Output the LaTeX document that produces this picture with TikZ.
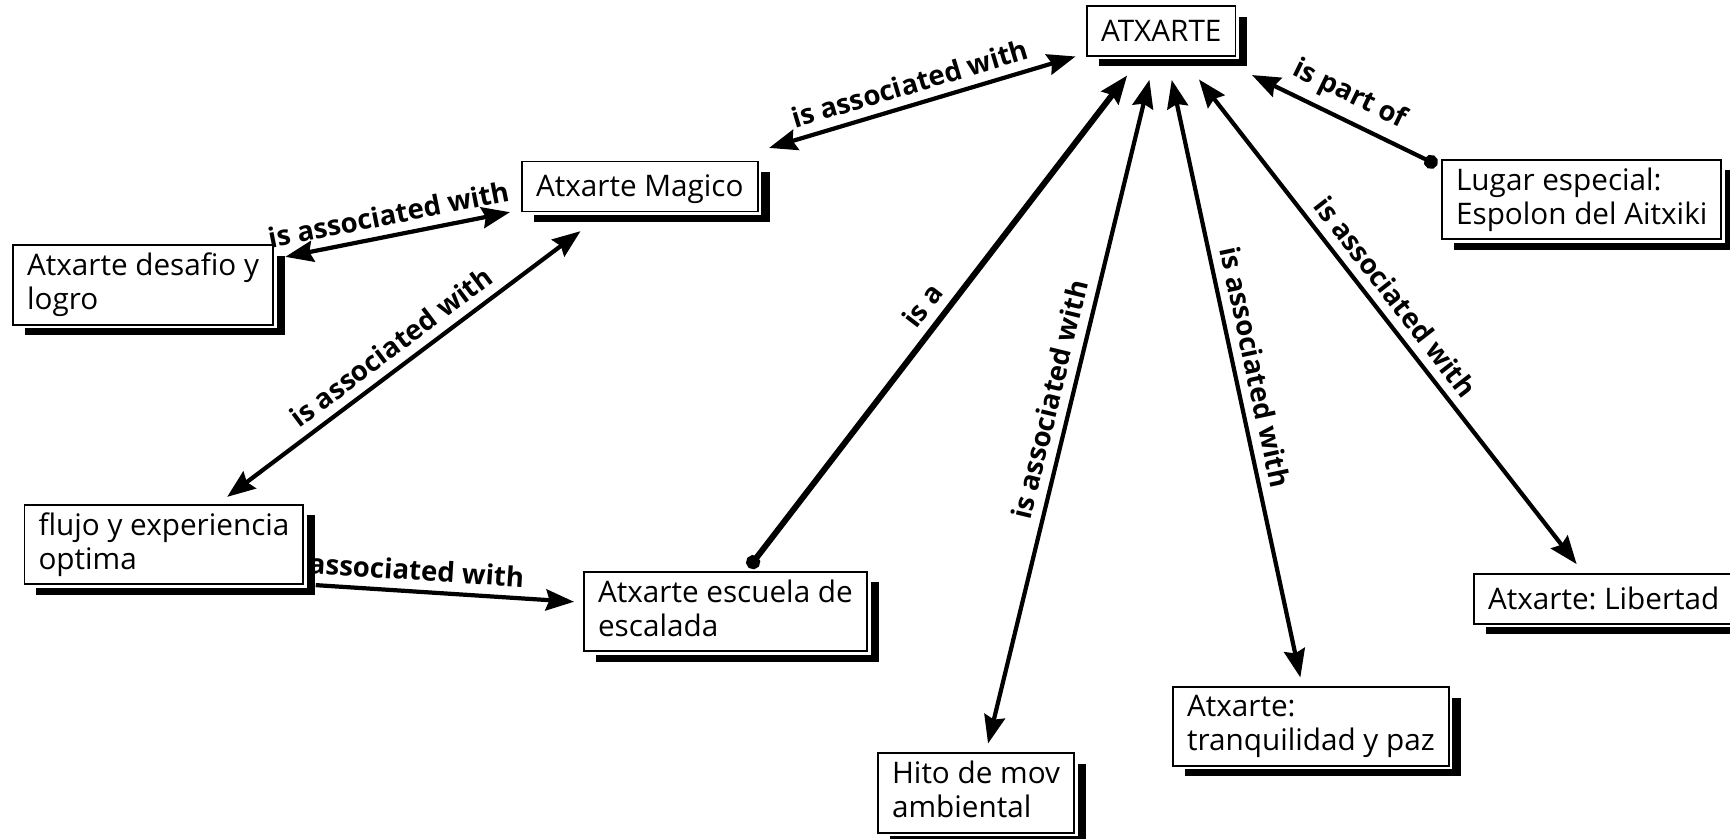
\documentclass[tikz,border=0pt]{standalone}
\usepackage{fontspec}
\setmainfont{Open Sans}
\usetikzlibrary{arrows.meta,shadows}
\newcommand\cstrut{\rule[-3.9pt]{0pt}{19.3pt}}

\begin{document}
\begin{tikzpicture}[scale=0.2]
            \tikzstyle{every node}+=[inner sep=0pt]
            \tikzstyle{concept}=[draw=white, double=black, line width=1.5pt, double distance=1.1pt, fill=white, anchor=west, align=left, inner xsep=8pt, inner ysep=4.5pt, outer sep=0pt, font=\fontsize{16.9}{19.3}\selectfont\frenchspacing, execute at begin node=\cstrut, execute at end node=\cstrut, drop shadow={shadow xshift=6.8pt, shadow yshift=-6pt, opacity=1, fill=black}]
            \tikzstyle{phrase}=[font=\fontsize{15.7}{18}\selectfont\bfseries, sloped, above=5pt]
            \tikzstyle{link}=[black, line width=2.4pt, {Stealth[length=16pt,width=12pt,inset=2pt]}-{Stealth[length=16pt,width=12pt,inset=2pt]}]
            \useasboundingbox (0,0) rectangle (173,-83.8);
            \node [concept] (atxarte) at (108.7,-3.1) {ATXARTE};
            \node [concept] (magico) at (52.2,-18.65) {Atxarte Magico};
            \node [concept] (desafio) at (1.3,-28.5) {Atxarte desafio y\\logro};
            \node [concept] (flujo) at (2.45,-54.45) {flujo y experiencia\\optima};
            \node [concept] (escuela) at (58.4,-61.15) {Atxarte escuela de\\escalada};
            \node [concept] (hito) at (87.8,-79.3) {Hito de mov\\ambiental};
            \node [concept] (tranquilidad) at (117.3,-72.65) {Atxarte:\\tranquilidad y paz};
            \node [concept] (libertad) at (147.4,-59.9) {Atxarte: Libertad};
            \node [concept] (lugar) at (144.2,-19.95) {Lugar especial:\\Espolon del Aitxiki};
            \draw [link, shorten <=27pt, shorten >=6.8pt] (magico) -- (atxarte) node [phrase, pos=0.53] {is associated with};
            \draw [link, shorten <=7pt, shorten >=7pt] (desafio) -- (magico) node [phrase, pos=0.48] {is associated with};
            \draw [link, shorten <=7.4pt, shorten >=18.6pt] (flujo) -- (magico) node [phrase, pos=0.48] {is associated with};
            \draw [black, line width=2.4pt, -{Stealth[length=16pt,width=12pt,inset=2pt]}, shorten <=7.4pt, shorten >=5.7pt] (flujo.344) -- (escuela) node [phrase, pos=0.4] {associated with};
            \draw [black, line width=3.4pt, {Circle[length=8pt]}-{Stealth[length=16pt,width=12pt,inset=2pt]}, shorten <=3pt, shorten >=14pt] (escuela.63) -- (atxarte) node [phrase, pos=0.49] {is a};
            \draw [link, shorten <=14pt, shorten >=5.8pt] (atxarte) -- (hito) node [phrase, pos=0.5] {is associated with};
            \draw [link, shorten <=14pt, shorten >=5.8pt] (atxarte) -- (tranquilidad) node [phrase, pos=0.5] {is associated with};
            \draw [link, shorten <=17pt, shorten >=7.2pt] (atxarte) -- (libertad) node [phrase, pos=0.49] {is associated with};
            \draw [black, line width=2.4pt, {Circle[length=8pt]}-{Stealth[length=16pt,width=12pt,inset=2pt]}, shorten <=3pt, shorten >=25pt] (lugar.167) -- (atxarte) node [phrase, pos=0.45] {is part of};
        \end{tikzpicture}
\end{document}
